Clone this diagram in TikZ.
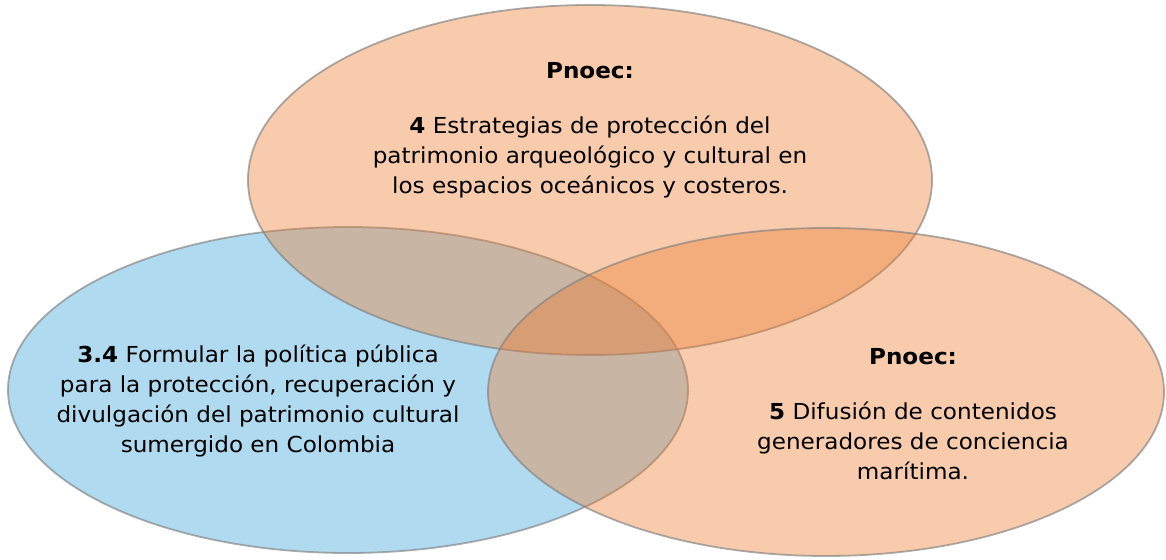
\documentclass[tikz,border=0pt]{standalone}
\usepackage{fontspec}
\setmainfont[FakeStretch=1.05]{DejaVu Sans}
\usetikzlibrary{shapes.geometric,positioning}
\definecolor{vennorange}{RGB}{237,125,49}
\definecolor{vennblue}{RGB}{58,163,218}
\tikzset{
  venn/.style={ellipse, draw=black!50, draw opacity=0.65, line width=1.8pt,
    fill opacity=0.4, inner sep=0pt},
  venntext/.style={align=center, font=\fontsize{22}{30}\selectfont}
}
\begin{document}
\begin{tikzpicture}[x=1pt,y=1pt]
  \useasboundingbox (0,0) rectangle (1166,559);
  % circles: blue first, orange on top
  \node[venn, fill=vennblue, minimum width=680pt, minimum height=326pt] (blue) at (348,169) {};
  \node[venn, fill=vennorange, minimum width=684pt, minimum height=350pt] (top) at (590,379) {};
  \node[venn, fill=vennorange, minimum width=676pt, minimum height=328pt] (right) at (826,167) {};
  % texts
  \node[venntext] (toptext) at (590,429) {\textbf{Pnoec:}\\[25pt]
    \textbf{4} Estrategias de protección del\\
    patrimonio arqueológico y cultural en\\
    los espacios oceánicos y costeros.};
  \node[venntext] (bluetext) at (258,158) {\textbf{3.4} Formular la política pública\\
    para la protección, recuperación y\\
    divulgación del patrimonio cultural\\
    sumergido en Colombia};
  \node[venntext] (righttext) at (913,145) {\textbf{Pnoec:}\\[25pt]
    \textbf{5} Difusión de contenidos\\
    generadores de conciencia\\
    marítima.};
\end{tikzpicture}
\end{document}
